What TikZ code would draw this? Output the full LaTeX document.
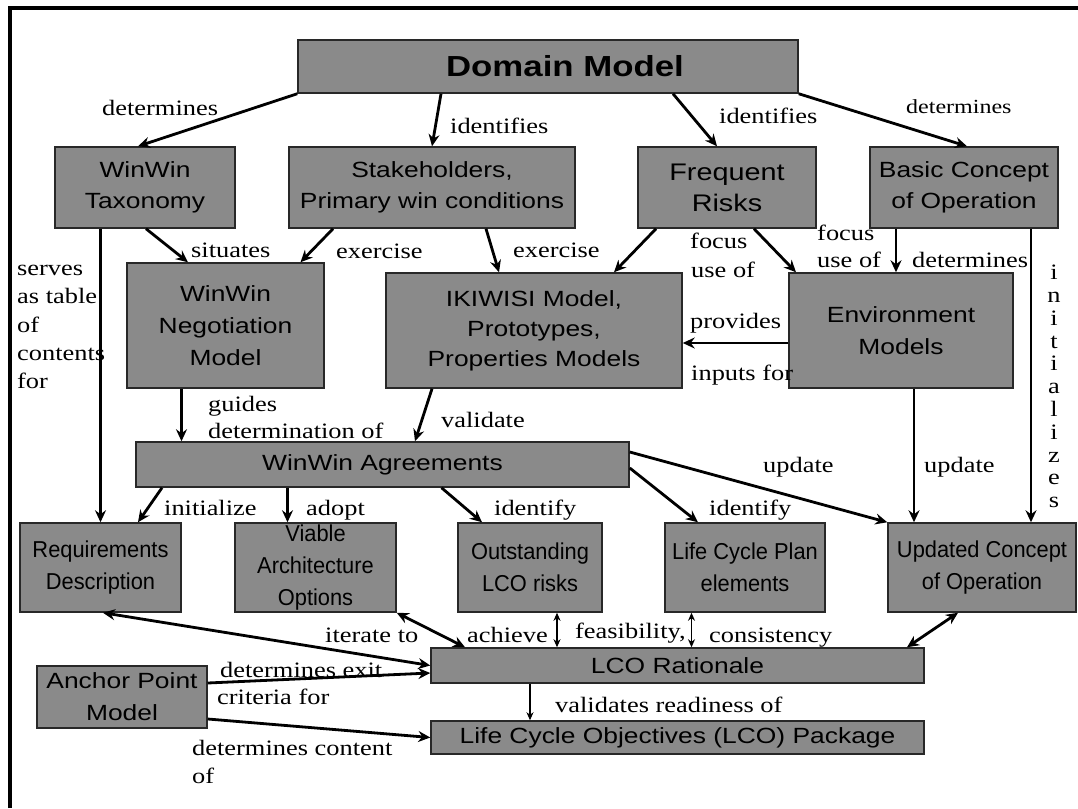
\documentclass[tikz,border=0pt]{standalone}
\usepackage{fontspec}
\setmainfont{Liberation Serif}[FakeStretch=1.2]
\newfontfamily\boxsans{Liberation Sans}[FakeStretch=1.2]
\newfontfamily\narrowsans{Liberation Sans}[FakeStretch=0.95]
\usetikzlibrary{arrows.meta}
\definecolor{boxfill}{RGB}{138,138,138}
\definecolor{boxline}{RGB}{40,40,40}
\tikzset{
  box/.style={draw=boxline, line width=1.5pt, fill=boxfill, inner sep=0pt, align=center,
              font=\boxsans\fontsize{22}{31}\selectfont},
  nbox/.style={box, font=\narrowsans\fontsize{23}{32}\selectfont},
  lab/.style={inner sep=0pt, anchor=base west, font=\fontsize{22}{27.5}\selectfont},
  bigtip/.tip={Stealth[length=12pt,width=11pt,inset=4pt]},
  smalltip/.tip={Stealth[length=8pt,width=7pt,inset=2.5pt]},
  arr/.style={line width=2.8pt, -bigtip},
  darr/.style={line width=2.8pt, bigtip-bigtip},
  thinarr/.style={line width=1.2pt, -smalltip},
  dthinarr/.style={line width=1.2pt, smalltip-smalltip},
}
\begin{document}
\begin{tikzpicture}[x=1pt, y=-1pt]
\useasboundingbox (0,0) rectangle (1078,808);

% frame
\draw[line width=4pt, line join=miter] (9.5,808) -- (9.5,8) -- (1078,8);

% boxes
\node[box, minimum width=500pt, minimum height=53pt, font=\boxsans\bfseries\fontsize{29}{35}\selectfont]
  (dom) at (548,66.5) {\hspace*{34pt}Domain Model};
\node[box, minimum width=180pt, minimum height=81pt] (tax) at (145,187.5) {WinWin\\Taxonomy};
\node[box, minimum width=286pt, minimum height=81pt] (stk) at (432,187.5) {Stakeholders,\\Primary win conditions};
\node[box, minimum width=178pt, minimum height=81pt, font=\boxsans\fontsize{24}{31}\selectfont]
  (risk) at (727,187.5) {Frequent\\Risks};
\node[box, minimum width=188pt, minimum height=81pt] (basic) at (964,187.5) {Basic Concept\\of Operation};
\node[box, minimum width=197pt, minimum height=125pt, font=\boxsans\fontsize{22}{32}\selectfont]
  (neg) at (225.5,325.5) {WinWin\\Negotiation\\Model};
\node[box, minimum width=296pt, minimum height=115pt, font=\boxsans\fontsize{22}{30}\selectfont]
  (iki) at (534,330.5) {IKIWISI Model,\\Prototypes,\\Properties Models};
\node[box, minimum width=224pt, minimum height=115pt, font=\boxsans\fontsize{22}{32}\selectfont]
  (env) at (901,330.5) {Environment\\Models};
\node[box, minimum width=493pt, minimum height=45pt] (agr) at (382.5,464.5) {WinWin Agreements};
\node[nbox, minimum width=161pt, minimum height=89pt] (req) at (100.5,567.5) {Requirements\\Description};
\node[nbox, minimum width=161pt, minimum height=89pt] (via) at (315.5,567.5) {Viable\\Architecture\\Options};
\node[nbox, minimum width=144pt, minimum height=89pt] (out) at (530,567.5) {Outstanding\\LCO risks};
\node[nbox, minimum width=160pt, minimum height=89pt] (lcp) at (745,567.5) {Life Cycle Plan\\elements};
\node[nbox, minimum width=188pt, minimum height=89pt] (upd) at (982,567.5) {Updated Concept\\of Operation};
\node[box, minimum width=493pt, minimum height=35pt] (lcor) at (677.5,665.5) {LCO Rationale};
\node[box, minimum width=170pt, minimum height=62pt, font=\boxsans\fontsize{22}{32}\selectfont]
  (anc) at (122,697) {Anchor Point\\Model};
\node[box, minimum width=493pt, minimum height=33pt] (lcop) at (677.5,737.5) {Life Cycle Objectives (LCO) Package};

% connectors
\draw[arr] (dom.south west) -- ([xshift=-7pt]tax.north);
\draw[arr] ([xshift=-107pt]dom.south) -- (stk.north);
\draw[arr] ([xshift=125pt]dom.south) -- ([xshift=-10pt]risk.north);
\draw[arr] (dom.south east) -- ([xshift=3pt]basic.north);
\draw[arr] ([xshift=-44.5pt]tax.south) -- (req.north);
\draw[arr] ([xshift=1pt]tax.south) -- ([xshift=-37.5pt]neg.north);
\draw[arr] ([xshift=-99pt]stk.south) -- ([xshift=75pt]neg.north);
\draw[arr] ([xshift=54pt]stk.south) -- ([xshift=-35pt]iki.north);
\draw[arr] ([xshift=-71pt]risk.south) -- ([xshift=80pt]iki.north);
\draw[arr] ([xshift=27pt]risk.south) -- ([xshift=-105pt]env.north);
\draw[arr] ([xshift=-68pt]basic.south) -- ([xshift=-5pt]env.north);
\draw[arr] ([xshift=67pt]basic.south) -- ([xshift=49pt]upd.north);
\draw[arr] ([yshift=-12.5pt]env.west) -- ([yshift=-12.5pt]iki.east);
\draw[arr] ([xshift=-44pt]neg.south) -- ([xshift=-201pt]agr.north);
\draw[arr] ([xshift=-102pt]iki.south) -- ([xshift=32.5pt]agr.north);
\draw[arr] ([xshift=13pt]env.south) -- ([xshift=-68pt]upd.north);
\draw[arr] ([yshift=12.5pt]agr.east) -- (upd.north west);
\draw[arr] ([yshift=-3.5pt]agr.east) -- ([xshift=-47pt]lcp.north);
\draw[arr] ([xshift=59pt]agr.south) -- ([xshift=-48pt]out.north);
\draw[arr] ([xshift=-95pt]agr.south) -- ([xshift=-28pt]via.north);
\draw[arr] ([xshift=-220.5pt]agr.south) -- ([xshift=37.5pt]req.north);
\draw[darr] ([xshift=2.5pt]req.south) -- (lcor.west);
\draw[darr] (via.south east) -- ([xshift=-212.5pt]lcor.north);
\draw[dthinarr] ([xshift=27pt]out.south) -- ([xshift=-120.5pt]lcor.north);
\draw[dthinarr] ([xshift=-53.5pt]lcp.south) -- ([xshift=14pt]lcor.north);
\draw[darr] ([xshift=-24pt]upd.south) -- ([xshift=229.5pt]lcor.north);
\draw[arr] ([yshift=14pt]anc.east) -- ([yshift=-7.5pt]lcor.west);
\draw[arr] ([yshift=-22pt]anc.east) -- (lcop.west);
\draw[thinarr] ([xshift=-147.5pt]lcor.south) -- ([xshift=-147.5pt]lcop.north);

% connector labels
\node[lab] (l1) at (102,115) {determines};
\node[lab] (l2) at (450,133) {identifies};
\node[lab] (l3) at (719,123) {identifies};
\node[lab, font=\fontsize{20}{25}\selectfont] (l4) at (906,113) {determines};
\node[lab] (l5) at (191,257) {situates};
\node[lab] (l6) at (336,258) {exercise};
\node[lab] (l7) at (513,257) {exercise};
\node[lab] (l8a) at (690,248) {focus};
\node[lab] (l8b) at (691,277) {use of};
\node[lab] (l9a) at (817,240) {focus};
\node[lab] (l9b) at (817,267) {use of};
\node[lab] (l10) at (912,267) {determines};
\node[lab] (l11a) at (17,275) {serves};
\node[lab] (l11b) at (17,303) {as table};
\node[lab] (l11c) at (17,332) {of};
\node[lab] (l11d) at (17,360) {contents};
\node[lab] (l11e) at (17,388) {for};
\node[lab] (l12a) at (690,328) {provides};
\node[lab] (l12b) at (691,380) {inputs for};
\node[lab] (l13a) at (208,411) {guides};
\node[lab] (l13b) at (208,438) {determination of};
\node[lab] (l14) at (441,427) {validate};
\node[lab] (l15) at (763,472) {update};
\node[lab] (l16) at (924,472) {update};
\node[lab] (l17) at (164,515) {initialize};
\node[lab] (l18) at (306,515) {adopt};
\node[lab] (l19) at (494,515) {identify};
\node[lab] (l20) at (709,515) {identify};
\node[lab] (l21) at (325,642) {iterate to};
\node[lab] (l22) at (467,642) {achieve};
\node[lab] (l23) at (575,638) {feasibility,};
\node[lab] (l24) at (709,642) {consistency};
\node[lab] (l25a) at (220,677) {determines exit};
\node[lab] (l25b) at (217,704) {criteria for};
\node[lab] (l26) at (555,712) {validates readiness of};
\node[lab] (l27a) at (192,755) {determines content};
\node[lab] (l27b) at (192,783) {of};
\node[inner sep=0pt, anchor=north, align=center, font=\fontsize{22}{22.8}\selectfont]
  (l28) at (1054,265) {i\\n\\i\\t\\i\\a\\l\\i\\z\\e\\s};
\end{tikzpicture}
\end{document}
